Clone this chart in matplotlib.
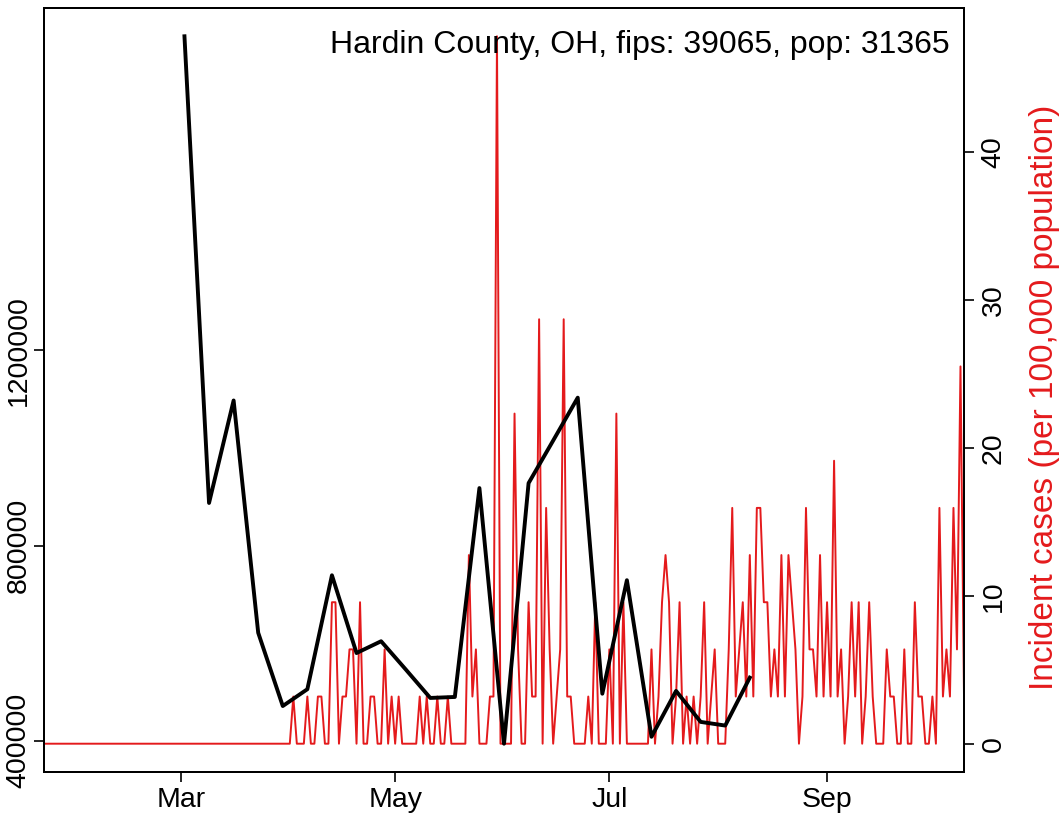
import numpy as np
import pandas as pd
import matplotlib
matplotlib.use('Agg')
import matplotlib.pyplot as plt
import matplotlib.dates as mdates

plt.rcParams['font.family'] = ['Liberation Sans', 'DejaVu Sans']

# county info
county_label = "Hardin County, OH, fips: 39065, pop: 31365"
population = 31365

# daily new cases, starting 2020-01-22
daily_start = "2020-01-22"
daily_cases = [
    0, 0, 0, 0, 0, 0, 0, 0, 0, 0,
    0, 0, 0, 0, 0, 0, 0, 0, 0, 0,
    0, 0, 0, 0, 0, 0, 0, 0, 0, 0,
    0, 0, 0, 0, 0, 0, 0, 0, 0, 0,
    0, 0, 0, 0, 0, 0, 0, 0, 0, 0,
    0, 0, 0, 0, 0, 0, 0, 0, 0, 0,
    0, 0, 0, 0, 0, 0, 0, 0, 0, 0,
    0, 1, 0, 0, 0, 1, 0, 0, 1, 1,
    0, 0, 3, 3, 0, 1, 1, 2, 2, 0,
    3, 0, 0, 1, 1, 0, 0, 2, 0, 1,
    0, 1, 0, 0, 0, 0, 0, 1, 0, 1,
    0, 0, 1, 0, 0, 1, 0, 0, 0, 0,
    0, 4, 1, 2, 0, 0, 0, 1, 1, 15,
    0, 0, 0, 0, 7, 2, 0, 0, 3, 1,
    1, 9, 0, 5, 2, 0, 1, 2, 9, 1,
    1, 0, 0, 0, 0, 1, 0, 3, 0, 0,
    0, 2, 0, 7, 0, 3, 0, 0, 0, 0,
    0, 0, 0, 2, 0, 1, 3, 4, 3, 0,
    1, 3, 0, 1, 0, 1, 0, 1, 3, 0,
    1, 2, 0, 0, 0, 2, 5, 1, 2, 3,
    1, 4, 1, 5, 5, 3, 3, 1, 2, 1,
    4, 1, 4, 3, 2, 0, 1, 5, 2, 2,
    1, 4, 1, 3, 1, 6, 1, 2, 0, 1,
    3, 1, 3, 0, 1, 3, 1, 0, 0, 0,
    2, 1, 1, 0, 0, 2, 0, 0, 3, 1,
    1, 0, 0, 1, 0, 5, 1, 2, 1, 5,
    2, 8, 1,
]

# weekly series (left axis), starting 2020-03-02
weekly_start = "2020-03-02"
weekly_values = [
    1843700, 887300, 1097300, 621300, 471100, 505600, 739100, 579700,
    603900, 546200, 487700, 489700, 917800, 393900, 927900, 1015200,
    1103100, 496400, 729000, 408100, 502100, 438600, 431100, 529300,
]

left_ticks = [400000, 800000, 1200000]
right_ticks = [0, 10, 20, 30, 40]
month_ticks = [3, 5, 7, 9]

dates = pd.date_range(daily_start, periods=len(daily_cases), freq='D')
incidence = np.array(daily_cases) / population * 1e5
week_dates = pd.date_range(weekly_start, periods=len(weekly_values), freq='7D')

red = '#E41A1C'

fig = plt.figure(figsize=(10.63, 8.17), dpi=100)
ax = fig.add_axes([44 / 1063, 45 / 817, 920 / 1063, 764 / 817])
ax2 = ax.twinx()

ax2.plot(dates, incidence, color=red, lw=1.4)
ax.plot(week_dates, weekly_values, color='black', lw=2.8)
ax.set_zorder(ax2.get_zorder() + 1)
ax.patch.set_visible(False)

# R style 4% padding on y, none on x
def padded(lo, hi):
    r = hi - lo
    return lo - 0.04 * r, hi + 0.04 * r

ax.set_xlim(dates[0], dates[-1])
ax.set_ylim(*padded(min(weekly_values), max(weekly_values)))
ax2.set_ylim(*padded(incidence.min(), incidence.max()))

ax.xaxis.set_major_locator(mdates.MonthLocator(bymonth=month_ticks))
ax.xaxis.set_major_formatter(mdates.DateFormatter('%b'))
ax.set_yticks(left_ticks)
ax.set_yticklabels([str(t) for t in left_ticks], rotation=90, va='center')
ax2.set_yticks(right_ticks)
ax2.set_yticklabels([str(t) for t in right_ticks], rotation=90, va='center')

ax.tick_params(axis='x', length=7, width=1.2, labelsize=20.5, pad=4)
ax.tick_params(axis='y', length=7, width=1.2, labelsize=20.5, pad=2)
ax2.tick_params(axis='y', length=7, width=1.2, labelsize=20.5, pad=5)
for a in (ax, ax2):
    for s in a.spines.values():
        s.set_linewidth(1.4)

ax.text(0.9848, 0.9516, county_label, transform=ax.transAxes,
        ha='right', va='center', fontsize=23)
fig.text(1045 / 1063, 1 - 397 / 817, "Incident cases (per 100,000 population)",
         rotation=90, ha='center', va='center', color=red, fontsize=24)

fig.savefig('out.png', dpi=100)
